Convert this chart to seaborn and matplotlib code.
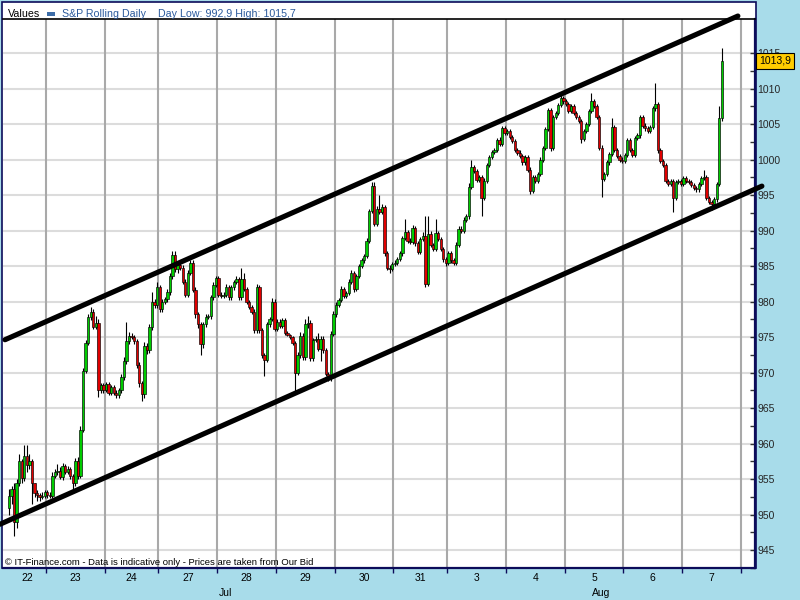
import matplotlib
matplotlib.use("Agg")
import matplotlib.pyplot as plt
import matplotlib.transforms as mtransforms
from matplotlib.patches import Rectangle
from matplotlib import font_manager
import numpy as np
import pandas as pd
import seaborn as sns

# ------------------------------------------------------------------ data
day_labels = ['22', '23', '24', '27', '28', '29', '30', '31', '3', '4', '5', '6', '7']
month_labels = ['Jul', 'Aug']
month_first_day = [0, 8]          # index into day_labels where each month starts
day_slots = [15, 23, 21, 23, 23, 23, 23, 21, 23, 23, 23, 23, 23]   # hourly slots per session

first_open = 951.0

close_22 = [952.6, 953.6, 949.0, 954.5, 957.5, 955.2, 958.2, 957.0, 957.6, 954.5, 953.0, 952.8, 952.5, 952.7, 953.2]
close_23 = [952.8, 952.6, 955.5, 956.0, 956.2, 955.3, 956.8, 956.0, 956.4, 955.4, 954.4, 957.6, 955.5, 962.0, 970.2,
            974.2, 977.8, 978.6, 976.5, 977.0, 967.6, 968.2, 967.6]
close_24 = [968.4, 967.2, 968.0, 967.2, 966.8, 967.6, 969.4, 971.7, 974.5, 975.2, 975.0, 974.4, 971.1, 968.5, 967.0,
            973.8, 973.2, 976.4, 979.9, 979.6, 982.0]
close_27 = [979.0, 980.0, 980.4, 981.4, 983.6, 986.6, 984.6, 985.2, 984.8, 982.8, 981.0, 984.0, 985.4, 981.7, 978.2,
            976.8, 974.0, 976.8, 977.8, 978.0, 980.6, 982.4, 983.3]
close_28 = [981.0, 980.8, 981.0, 982.0, 980.6, 982.0, 982.8, 983.2, 980.6, 983.2, 981.8, 980.0, 979.3, 978.6, 976.0,
            982.0, 976.0, 972.5, 971.8, 976.8, 977.6, 980.0, 976.2]
close_29 = [977.2, 976.6, 977.4, 975.6, 975.3, 975.0, 974.2, 970.0, 972.5, 975.2, 972.2, 976.8, 977.0, 972.0, 974.6,
            974.8, 973.4, 974.8, 973.2, 969.8, 969.2, 975.5, 978.2]
close_30 = [979.6, 980.2, 981.8, 980.8, 981.2, 982.8, 984.0, 981.8, 983.6, 985.0, 985.8, 986.4, 988.6, 992.8, 996.3,
            991.0, 993.0, 992.6, 993.3, 986.8, 984.8, 984.6, 985.3]
close_31 = [985.5, 986.0, 986.8, 989.0, 989.8, 988.6, 988.4, 990.4, 988.3, 987.0, 988.8, 989.2, 982.5, 989.5, 988.0,
            987.4, 989.6, 988.8, 987.4, 986.0, 985.4]
close_03 = [986.8, 985.8, 985.4, 988.0, 990.3, 990.0, 991.5, 992.0, 996.2, 999.0, 998.4, 997.2, 997.6, 994.6, 997.0,
            999.2, 1000.4, 1001.1, 1001.4, 1002.8, 1002.2, 1004.4, 1003.8]
close_04 = [1004.0, 1003.2, 1002.6, 1001.4, 1001.0, 1000.5, 999.6, 1000.3, 998.6, 995.6, 997.6, 997.0, 998.0, 1000.0,
            1001.6, 1004.3, 1007.0, 1001.6, 1006.0, 1006.6, 1007.7, 1008.7, 1008.2]
close_05 = [1007.8, 1006.8, 1007.6, 1006.6, 1006.0, 1005.4, 1002.9, 1004.0, 1005.0, 1006.8, 1008.2, 1007.6, 1006.0,
            1001.7, 997.3, 998.0, 999.6, 1000.8, 1004.6, 1001.4, 1000.5, 1000.0, 999.8]
close_06 = [1000.6, 1002.8, 1001.4, 1000.6, 1003.0, 1003.4, 1006.0, 1004.8, 1004.4, 1004.0, 1004.6, 1007.2, 1007.8,
            1001.3, 999.8, 999.2, 997.0, 996.6, 997.0, 994.6, 996.8, 997.0, 996.6]
close_07 = [997.4, 997.0, 996.8, 996.4, 996.0, 995.8, 996.6, 997.4, 997.6, 994.6, 994.0, 993.8, 994.4, 996.6, 1005.8,
            1013.9]

# wick lengths above max(open, close) and below min(open, close)
whi_22 = [1.0, 0.4, 0.8, 0.5, 1.0, 0.3, 1.6, 1.6, 0.9, 0.2, 0.0, 0.5, 0.2, 0.5, 0.3]
wlo_22 = [1.0, 1.1, 2.0, 0.8, 0.5, 0.7, 0.5, 1.0, 0.5, 3.0, 0.5, 0.8, 0.5, 0.3, 0.3]
whi_23 = [0.3, 0.4, 0.5, 0.4, 1.0, 0.5, 0.5, 0.4, 0.4, 0.3, 0.3, 0.4, 0.5, 0.5, 0.5, 0.4, 0.5, 0.7, 0.4, 1.0, 0.5, 0.3, 0.4]
wlo_23 = [0.4, 0.3, 0.3, 0.3, 0.4, 0.3, 0.4, 0.3, 0.3, 0.4, 1.0, 0.4, 0.5, 0.3, 0.4, 0.3, 0.3, 0.4, 0.3, 0.4, 1.0, 0.5, 0.4]
whi_24 = [0.3, 0.3, 0.3, 0.3, 0.3, 0.3, 0.4, 0.5, 2.6, 0.5, 0.4, 0.3, 0.3, 0.4, 0.4, 0.5, 0.4, 0.5, 1.5, 0.5, 0.8]
wlo_24 = [0.3, 0.4, 0.3, 0.3, 0.4, 0.3, 0.4, 0.4, 0.5, 0.4, 0.3, 0.4, 0.4, 0.5, 1.0, 0.5, 0.5, 0.4, 0.4, 0.5, 0.5]
whi_27 = [0.4, 0.4, 0.3, 0.4, 0.4, 0.5, 0.5, 0.4, 0.4, 0.3, 0.4, 0.4, 0.5, 0.4, 0.3, 0.3, 0.3, 0.4, 0.4, 0.3, 0.4, 0.4, 0.3]
wlo_27 = [0.4, 0.4, 0.3, 0.4, 0.4, 0.4, 0.4, 0.5, 0.4, 0.3, 0.4, 0.4, 0.3, 0.4, 0.5, 0.5, 1.5, 0.5, 0.4, 0.3, 0.4, 0.4, 0.3]
whi_28 = [0.3, 0.3, 0.3, 0.5, 0.3, 0.3, 0.3, 0.4, 0.3, 1.6, 0.8, 0.3, 0.3, 0.3, 0.3, 0.5, 0.4, 0.3, 0.3, 0.3, 0.3, 0.5, 0.4]
wlo_28 = [0.3, 0.3, 0.3, 0.3, 0.3, 0.3, 0.3, 0.3, 0.3, 0.4, 0.3, 0.3, 0.3, 0.3, 0.4, 0.4, 0.4, 0.4, 2.2, 0.3, 0.4, 0.3, 0.3]
whi_29 = [0.3, 0.3, 0.3, 0.3, 0.2, 0.2, 0.2, 0.3, 0.4, 0.5, 0.4, 0.8, 1.0, 0.4, 0.3, 0.4, 0.8, 0.3, 0.3, 0.3, 0.3, 0.4, 0.5]
wlo_29 = [0.3, 0.3, 0.3, 0.3, 0.2, 0.2, 0.3, 3.0, 0.3, 0.4, 0.4, 0.4, 0.5, 0.3, 0.4, 0.3, 0.4, 1.8, 0.4, 0.3, 0.4, 0.3, 0.3]
whi_30 = [0.3, 0.3, 0.4, 0.3, 0.3, 0.4, 0.4, 0.3, 0.3, 0.3, 0.3, 0.3, 0.3, 0.3, 0.5, 0.5, 0.4, 2.0, 0.4, 0.3, 0.3, 0.3, 0.3]
wlo_30 = [0.3, 0.3, 0.3, 0.3, 0.3, 0.3, 0.3, 0.4, 0.3, 0.3, 0.3, 0.3, 0.3, 0.3, 0.3, 0.4, 0.3, 0.3, 0.3, 0.3, 0.4, 0.5, 0.3]
whi_31 = [0.3, 0.3, 0.3, 0.3, 1.8, 0.3, 0.3, 0.4, 0.3, 0.3, 0.3, 0.6, 2.8, 2.5, 0.4, 0.3, 2.0, 0.3, 0.3, 0.3, 0.3]
wlo_31 = [0.3, 0.3, 0.3, 0.3, 0.3, 0.3, 0.3, 0.3, 0.5, 0.3, 0.3, 0.3, 0.4, 0.3, 0.3, 0.3, 0.3, 0.3, 0.3, 0.4, 0.4]
whi_03 = [0.3, 0.3, 0.3, 0.4, 0.3, 0.3, 0.4, 0.4, 0.5, 1.0, 0.3, 0.3, 0.3, 0.3, 0.4, 0.3, 0.3, 0.3, 0.3, 0.3, 0.4, 0.3, 0.3]
wlo_03 = [0.3, 0.3, 0.3, 0.3, 0.3, 0.3, 0.3, 0.3, 0.3, 0.3, 0.3, 0.3, 0.3, 2.6, 0.3, 0.3, 0.3, 0.3, 0.3, 0.3, 0.3, 0.3, 0.3]
whi_04 = [0.3, 0.3, 0.3, 0.3, 0.3, 0.3, 0.3, 0.3, 0.3, 0.3, 0.3, 0.3, 0.3, 0.3, 0.3, 0.3, 0.3, 0.3, 0.3, 0.3, 0.3, 0.7, 0.3]
wlo_04 = [0.3, 0.3, 0.3, 0.3, 0.3, 0.3, 0.3, 0.3, 0.3, 0.4, 0.3, 0.3, 0.3, 0.3, 0.3, 0.3, 0.3, 0.4, 0.3, 0.3, 0.3, 0.3, 0.3]
whi_05 = [0.3, 0.3, 0.3, 0.3, 0.3, 0.3, 0.3, 0.3, 0.3, 0.3, 1.2, 0.3, 0.3, 0.3, 0.3, 0.3, 0.3, 0.3, 1.3, 0.3, 0.3, 0.3, 0.3]
wlo_05 = [0.3, 0.3, 0.3, 0.3, 0.3, 0.3, 0.5, 0.3, 0.3, 0.3, 0.3, 0.3, 0.3, 0.3, 2.6, 0.3, 0.3, 0.3, 0.3, 0.3, 0.3, 0.3, 0.3]
whi_06 = [0.3, 0.3, 0.3, 0.3, 0.3, 0.3, 0.3, 0.3, 0.3, 0.3, 0.3, 0.3, 3.0, 0.3, 0.3, 0.3, 0.3, 0.3, 0.3, 0.3, 0.3, 0.3, 0.3]
wlo_06 = [0.3, 0.3, 0.3, 0.3, 0.3, 0.3, 0.3, 0.3, 0.3, 0.3, 0.3, 0.3, 0.3, 0.3, 0.3, 0.3, 0.3, 0.3, 0.3, 2.0, 0.3, 0.3, 0.3]
whi_07 = [0.3, 0.3, 0.3, 0.3, 0.3, 0.3, 0.3, 0.3, 1.0, 0.3, 0.3, 0.3, 0.3, 0.3, 1.7, 1.8]
wlo_07 = [0.3, 0.3, 0.3, 0.3, 0.3, 0.3, 0.3, 0.3, 0.3, 0.3, 0.3, 0.9, 0.3, 0.3, 0.3, 0.3]

# channel (trend) lines: position in hourly slots, price
channel_x_upper = [-1.05, 285.8]
channel_y_upper = [974.64, 1020.22]
channel_x_lower = [-3.0, 295.2]
channel_y_lower = [948.66, 996.27]

last_price_label = '1013,9'
last_price = 1013.9
header_series = 'S&P Rolling Daily'
header_info = 'Day Low: 992,9 High: 1015,7'
footer_text = '\u00a9 IT-Finance.com - Data is indicative only - Prices are taken from Our Bid'

y_ticks = [945, 950, 955, 960, 965, 970, 975, 980, 985, 990, 995, 1000, 1005, 1010, 1015]
y_range = (942.91, 1019.80)
x_range = (-1.83, 292.5)

# ------------------------------------------------------------------ build table
closes_by_day = [close_22, close_23, close_24, close_27, close_28, close_29, close_30, close_31,
                 close_03, close_04, close_05, close_06, close_07]
whi_by_day = [whi_22, whi_23, whi_24, whi_27, whi_28, whi_29, whi_30, whi_31, whi_03, whi_04, whi_05, whi_06, whi_07]
wlo_by_day = [wlo_22, wlo_23, wlo_24, wlo_27, wlo_28, wlo_29, wlo_30, wlo_31, wlo_03, wlo_04, wlo_05, wlo_06, wlo_07]

day_start = np.concatenate([[0], np.cumsum(day_slots)[:-1]])
day_end = np.cumsum(day_slots)
rows = []
for d, cl in enumerate(closes_by_day):
    for j, c in enumerate(cl):
        rows.append(dict(pos=day_start[d] + j + 0.5, close=c, whi=whi_by_day[d][j], wlo=wlo_by_day[d][j]))
df = pd.DataFrame(rows)
df['open'] = [first_open] + list(df['close'].values[:-1])
df['high'] = np.maximum(df['open'], df['close']) + df['whi']
df['low'] = np.minimum(df['open'], df['close']) - df['wlo']
df['up'] = df['close'] >= df['open']

# ------------------------------------------------------------------ style
sns.set_theme(style='white')


def has_font(name):
    try:
        font_manager.findfont(font_manager.FontProperties(family=name), fallback_to_default=False)
        return True
    except Exception:
        return False


main_font = 'Liberation Sans' if has_font('Liberation Sans') else 'DejaVu Sans'
plt.rcParams['font.family'] = [main_font, 'DejaVu Sans']

W, H = 800, 600
bg = '#a8dcea'
navy = '#0c0c5a'
fig = plt.figure(figsize=(8, 6), dpi=100, facecolor=bg)

# white panel (behind the axes)
fig.patches.append(Rectangle((1.5 / W, 1 - 568 / H), 754 / W, 566 / H, transform=fig.transFigure,
                             facecolor='white', edgecolor=navy, linewidth=1.2, zorder=-5))

ax = fig.add_axes([3 / W, 1 - 568 / H, 752 / W, 549 / H])
ax.set_facecolor('white')
ax.set_xlim(*x_range)
ax.set_ylim(*y_range)

# grid
for v in y_ticks:
    ax.axhline(v, color='#dcdcdc', lw=1.5, zorder=0.5)
for b in day_end:
    ax.axvline(b, color='#a9a9a9', lw=1.5, zorder=0.6)

# wicks and bodies
ax.vlines(df['pos'], df['low'], df['high'], color='black', lw=0.8, zorder=2)
body_bottom = np.minimum(df['open'], df['close'])
body_h = np.maximum(np.abs(df['close'] - df['open']), 0.08)
colors = np.where(df['up'], '#00cc00', '#e00000')
ax.bar(df['pos'], body_h, bottom=body_bottom, width=0.92, color=colors, edgecolor='black',
       linewidth=0.45, zorder=3)

# channel lines
sns.lineplot(x=channel_x_upper, y=channel_y_upper, ax=ax, color='black', linewidth=3.7,
             clip_on=False, solid_capstyle='round', zorder=5)
sns.lineplot(x=channel_x_lower, y=channel_y_lower, ax=ax, color='black', linewidth=3.7,
             clip_on=False, solid_capstyle='round', zorder=5)

# axes decoration
ax.spines['left'].set_visible(False)
ax.spines['top'].set_color('black')
ax.spines['top'].set_linewidth(1.2)
for s in ['right', 'bottom']:
    ax.spines[s].set_color(navy)
    ax.spines[s].set_linewidth(1.6)

ax.yaxis.tick_right()
ax.set_yticks(y_ticks)
ax.set_yticklabels([str(v) for v in y_ticks])
ax.set_yticks([v + 2.5 for v in y_ticks[:-1]] + [y_ticks[0] - 2.5], minor=True)
ax.tick_params(axis='y', which='both', direction='in', length=3.5, width=1, color='#333333',
               labelsize=7.5, pad=1.5, right=True, left=False)
ax.set_xticks(day_end)
ax.set_xticklabels([])
ax.tick_params(axis='x', which='both', direction='out', length=3.5, width=1, color=navy, bottom=True)
ax.set_xlabel('')
ax.set_ylabel('')
if ax.get_legend() is not None:
    ax.get_legend().remove()

trans = mtransforms.blended_transform_factory(ax.transData, ax.transAxes)
for d, lab in enumerate(day_labels):
    s = max(day_start[d], x_range[0])
    e = min(day_end[d], x_range[1])
    ax.text((s + e) / 2, -10 / 549, lab, transform=trans, ha='center', va='center', fontsize=7.5,
            color='black', clip_on=False)
month_bounds = [x_range[0], day_start[month_first_day[1]], x_range[1]]
for m, lab in enumerate(month_labels):
    ax.text((month_bounds[m] + month_bounds[m + 1]) / 2, -25 / 549, lab, transform=trans, ha='center',
            va='center', fontsize=7.5, color='black', clip_on=False)

# last price box
trans_y = mtransforms.blended_transform_factory(ax.transAxes, ax.transData)
ax.text(1 + 4 / 752, last_price, last_price_label, transform=trans_y, ha='left', va='center', fontsize=7.5,
        color='black', clip_on=False, zorder=10,
        bbox=dict(boxstyle='square,pad=0.3', fc='#ffcc00', ec='black', lw=0.8))

# header
blue = '#2b5a9c'
fig.text(8 / W, 1 - 17 / H, 'Values', fontsize=7.7, color='black', va='baseline', ha='left')
fig.patches.append(Rectangle((47 / W, 1 - 15.5 / H), 8 / W, 3.5 / H, transform=fig.transFigure,
                             facecolor='#3d6da8', edgecolor='none', zorder=3))
fig.text(62 / W, 1 - 17 / H, header_series, fontsize=7.7, color=blue, va='baseline', ha='left')
fig.text(158 / W, 1 - 17 / H, header_info, fontsize=7.7, color=blue, va='baseline', ha='left')

# footer
fig.text(5 / W, 1 - 565 / H, footer_text, fontsize=6.8, color='black', va='baseline', ha='left')

fig.savefig('out.png', dpi=100, facecolor=bg)
